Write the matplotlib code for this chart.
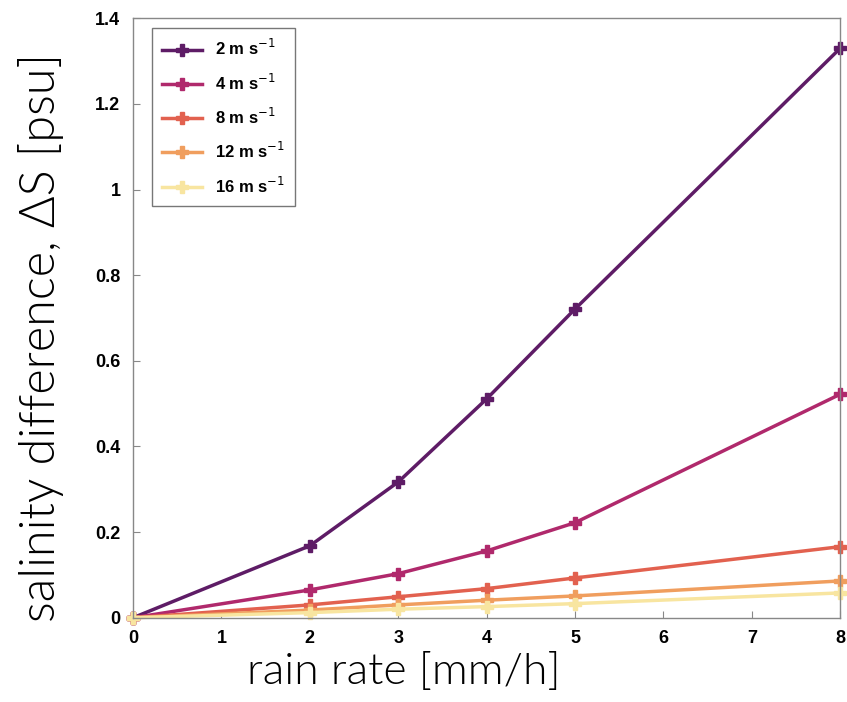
import numpy as np
import matplotlib.pyplot as plt

rain = [0, 2, 3, 4, 5, 8]
ds_2 = [0, 0.168, 0.317, 0.511, 0.721, 1.330]
ds_4 = [0, 0.065, 0.103, 0.156, 0.222, 0.522]
ds_8 = [0, 0.030, 0.049, 0.068, 0.093, 0.166]
ds_12 = [0, 0.018, 0.030, 0.041, 0.051, 0.086]
ds_16 = [0, 0.012, 0.020, 0.026, 0.033, 0.058]
labels = ["2 m s$^{-1}$", "4 m s$^{-1}$", "8 m s$^{-1}$", "12 m s$^{-1}$", "16 m s$^{-1}$"]
colors = ["#5e1c66", "#b0296c", "#e2614f", "#f09e5e", "#f8e5a0"]

fig = plt.figure(figsize=(8.47, 7.02), dpi=100)
ax = fig.add_axes([0.157, 0.12, 0.835, 0.854])

for ys, lab, c in zip([ds_2, ds_4, ds_8, ds_12, ds_16], labels, colors):
    ax.plot(rain, ys, color=c, lw=2.5, marker="P", ms=8, label=lab, clip_on=False)

ax.set_xlim(0, 8)
ax.set_ylim(0, 1.4)
ax.set_xticks(range(9))
ax.set_yticks(np.arange(0, 1.41, 0.2))
ax.set_yticklabels(["0", "0.2", "0.4", "0.6", "0.8", "1", "1.2", "1.4"])
ax.tick_params(direction="in", length=5, width=0.8, color="#888888", labelsize=13)
ax.tick_params(axis="y", pad=9)
ax.tick_params(axis="x", pad=9)
for t in ax.get_xticklabels() + ax.get_yticklabels():
    t.set_fontweight("bold")
    t.set_family("Liberation Sans")
for s in ax.spines.values():
    s.set_color("#888888")
    s.set_linewidth(1)

ax.set_xlabel("rain rate [mm/h]", fontsize=32, family="Lato", fontweight=300, color="black")
ax.set_ylabel("salinity difference, ΔS [psu]", fontsize=35, family="Lato", fontweight=300, color="black")
ax.xaxis.set_label_coords(0.383, -0.058)
ax.yaxis.set_label_coords(-0.097, 0.468)

leg = ax.legend(loc="upper left", bbox_to_anchor=(0.015, 0.997), frameon=True, fancybox=False,
                edgecolor="#555555", handlelength=2.4, borderpad=0.6, labelspacing=0.85,
                prop={"family": "Liberation Sans", "weight": "bold", "size": 12})
leg.get_frame().set_linewidth(1)

fig.savefig("out.png", dpi=100)
